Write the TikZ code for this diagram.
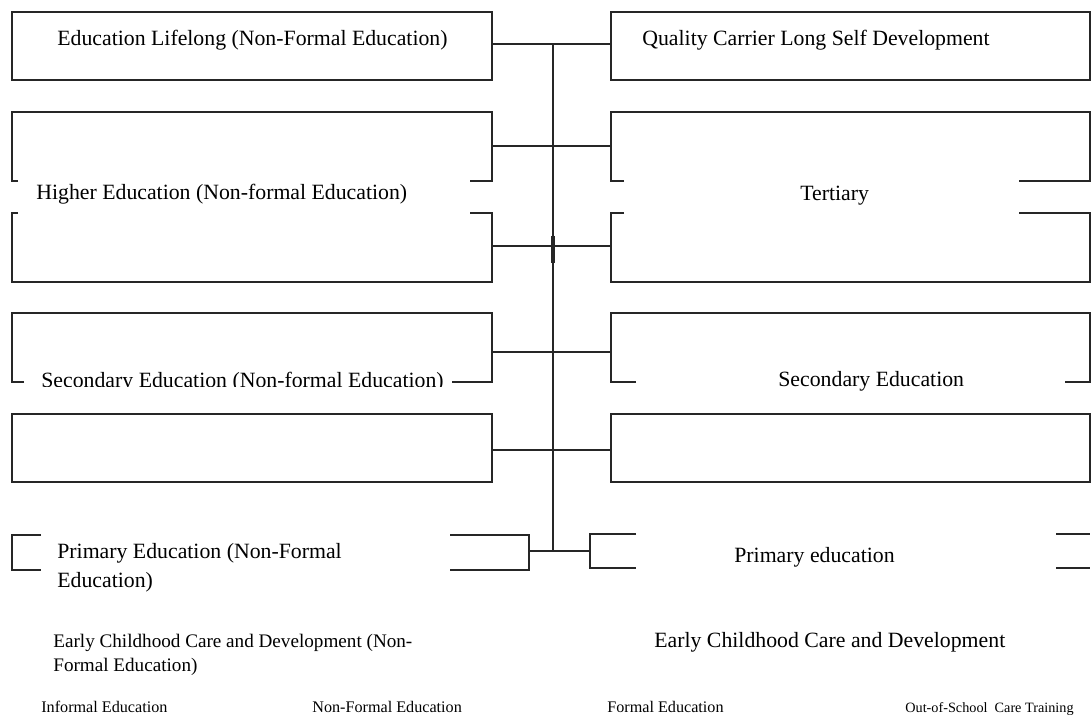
\documentclass[tikz,border=0pt]{standalone}
\usepackage{fontspec}
\setmainfont{Liberation Serif}
\usetikzlibrary{positioning}

\tikzset{
  frame/.style={draw=black!85, line width=0.8pt},
  lbl/.style={inner sep=0pt, anchor=base west, font=\fontsize{12.4}{16}\selectfont},
  tag/.style={inner sep=0pt, anchor=base west, font=\fontsize{9.2}{11}\selectfont},
}

\begin{document}
\begin{tikzpicture}[x=0.02cm, y=-0.02cm]
    \useasboundingbox (0,0) rectangle (1091,715);
    % top boxes
    \draw[frame] (12,12) rectangle (492,80);
    \draw[frame] (611,12) rectangle (1090,80);
    \node[lbl] (lifelong) at (57,46) {Education Lifelong (Non-Formal Education)};
    \node[lbl] (quality) at (642,46) {Quality Carrier Long Self Development};

    % higher education / tertiary (broken boxes)
    \draw[frame] (18,181) -- (12,181) -- (12,112) -- (492,112) -- (492,181) -- (470,181);
    \draw[frame] (18,213) -- (12,213) -- (12,282) -- (492,282) -- (492,213) -- (470,213);
    \draw[frame] (624,181) -- (611,181) -- (611,112) -- (1090,112) -- (1090,181) -- (1019,181);
    \draw[frame] (624,213) -- (611,213) -- (611,282) -- (1090,282) -- (1090,213) -- (1019,213);
    \node[lbl] (higher) at (36,200) {Higher Education (Non-formal Education)};
    \node[lbl] (tertiary) at (800,201) {Tertiary};

    % secondary
    \draw[frame] (24,382) -- (12,382) -- (12,313) -- (492,313) -- (492,382) -- (452,382);
    \draw[frame] (636,382) -- (611,382) -- (611,313) -- (1090,313) -- (1090,382) -- (1065,382);
    \begin{scope}
        \clip (0,0) rectangle (1091,387);
        \node[lbl] (secondaryL) at (41,388) {Secondary Education (Non-formal Education)};
    \end{scope}
    \node[lbl] (secondaryR) at (778,387) {Secondary Education};

    % empty row
    \draw[frame] (12,414) rectangle (492,482);
    \draw[frame] (611,414) rectangle (1090,482);

    % primary
    \draw[frame] (41,535) -- (12,535) -- (12,570) -- (41,570);
    \draw[frame] (450,535) -- (529,535) -- (529,570) -- (450,570);
    \draw[frame] (636,534) -- (590,534) -- (590,568) -- (636,568);
    \draw[frame] (1056,534) -- (1090,534);
    \draw[frame] (1056,568) -- (1090,568);
    \node[lbl, align=left, anchor=north west,
          font=\fontsize{12.4}{16.5}\selectfont] (primaryL) at (57,543)
          {Primary Education (Non-Formal\\Education)};
    \node[lbl] (primaryR) at (734,562) {Primary education};

    % early childhood
    \node[lbl, align=left, anchor=north west,
          font=\fontsize{10.9}{13.4}\selectfont] (earlyL) at (53,634)
          {Early Childhood Care and Development (Non-\\Formal Education)};
    \node[lbl] (earlyR) at (654,647) {Early Childhood Care and Development};

    % bottom captions
    \node[tag] (informal) at (41,712) {Informal Education};
    \node[tag] (nonformal) at (312,712) {Non-Formal Education};
    \node[tag] (formal) at (607,712) {Formal Education};
    \node[tag, font=\fontsize{8.1}{10}\selectfont] (outschool) at (905,712)
          {Out-of-School\ \ Care Training};

    % connectors
    \foreach \r/\y in {1/44, 2/146, 3/246, 4/352, 5/450} {
        \coordinate (L\r) at (492,\y);
        \coordinate (R\r) at (611,\y);
        \draw[frame] (L\r) -- (R\r);
    }
    \coordinate (L6) at (529,551);
    \coordinate (R6) at (590,551);
    \draw[frame] (L6) -- (R6);
    \coordinate (T1) at (553,44);
    \coordinate (T6) at (553,551);
    \draw[frame] (T1) -- (T6);
    \draw[frame, line width=1.8pt] (553,236) -- (553,263);
\end{tikzpicture}
\end{document}
